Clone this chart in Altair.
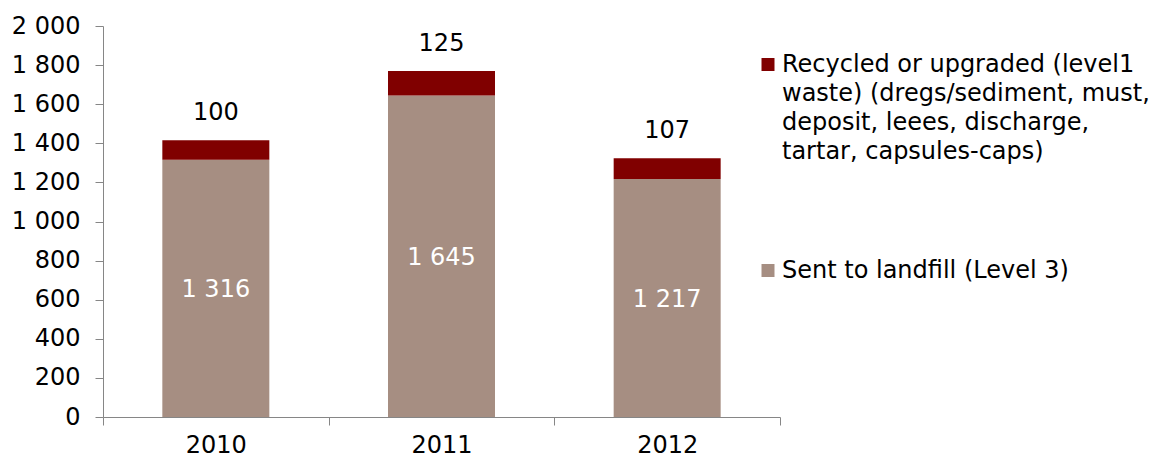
import altair as alt
import pandas as pd

years = ["2010", "2011", "2012"]
landfill = [1316, 1645, 1217]
recycled = [100, 125, 107]
series_names = [
    "Recycled or upgraded (level1 waste) (dregs/sediment, must, deposit, leees, discharge, tartar, capsules-caps)",
    "Sent to landfill (Level 3)",
]
colors = ["#800000", "#A68E82"]
y_ticks = [0, 200, 400, 600, 800, 1000, 1200, 1400, 1600, 1800, 2000]

FONT = "DejaVu Sans"
FS = 24

rows = []
for yr, lf, rc in zip(years, landfill, recycled):
    rows.append({"year": yr, "series": series_names[1], "value": lf, "order": 0})
    rows.append({"year": yr, "series": series_names[0], "value": rc, "order": 1})
df = pd.DataFrame(rows)

wide = pd.DataFrame({"year": years, "landfill": landfill, "recycled": recycled})

xscale = alt.Scale(paddingInner=0, paddingOuter=0)
xaxis = alt.Axis(
    title=None, labelAngle=0, tickBand="extent", tickSize=8, labelPadding=8,
    labelFontSize=FS, labelFont=FONT, labelColor="#000000",
    domainColor="#868686", tickColor="#868686",
)
yscale = alt.Scale(domain=[0, 2000], nice=False)
yaxis = alt.Axis(
    title=None, values=y_ticks, grid=False, tickSize=8, labelPadding=15,
    labelOverlap=False,
    labelFontSize=FS, labelFont=FONT, labelColor="#000000",
    domainColor="#868686", tickColor="#868686",
    labelExpr="replace(format(datum.value, ','), ',', ' ')",
)

bars = alt.Chart(df).mark_bar(size=107).encode(
    x=alt.X("year:N", scale=xscale, axis=xaxis, title=None),
    y=alt.Y("value:Q", stack="zero", scale=yscale, axis=yaxis, title=None),
    color=alt.Color(
        "series:N",
        scale=alt.Scale(domain=series_names, range=colors),
        legend=alt.Legend(
            title=None, orient="none", legendX=653, legendY=15, direction="vertical",
            symbolType="M-1,0.77H1V2.77H-1Z", symbolSize=169, symbolStrokeWidth=0,
            labelFont=FONT, labelFontSize=FS, labelColor="#000000", labelLimit=600,
            labelOffset=2, padding=0, rowPadding=83, labelBaseline="top",
            labelExpr="datum.label == 'Sent to landfill (Level 3)' ? datum.label : ['Recycled or upgraded (level1', 'waste) (dregs/sediment, must,', 'deposit, leees, discharge,', 'tartar, capsules-caps)']",
        ),
    ),
    order=alt.Order("order:Q"),
)

top_labels = alt.Chart(wide).transform_calculate(
    total="datum.landfill + datum.recycled"
).mark_text(font=FONT, fontSize=FS, color="#000000", baseline="alphabetic", dy=-20).encode(
    x=alt.X("year:N", scale=xscale, axis=xaxis, title=None),
    y=alt.Y("total:Q", scale=yscale, axis=yaxis, title=None),
    text=alt.Text("recycled:Q"),
)

inner_labels = alt.Chart(wide).transform_calculate(
    mid="datum.landfill / 2",
    lbl="replace(format(datum.landfill, ','), ',', ' ')",
).mark_text(font=FONT, fontSize=FS, color="#FFFFFF", baseline="middle", dy=2).encode(
    x=alt.X("year:N", scale=xscale, axis=xaxis, title=None),
    y=alt.Y("mid:Q", scale=yscale, axis=yaxis, title=None),
    text=alt.Text("lbl:N"),
)

chart = alt.layer(bars, top_labels, inner_labels).properties(
    width=677, height=391,
    autosize=alt.AutoSizeParams(type="none"),
    padding={"left": 103, "top": 26, "right": 377, "bottom": 43},
).configure(
    view=alt.ViewConfig(stroke="transparent"),
    style={"guide-label": {"lineHeight": 29}},
)

chart.save("out.html", embed_options={"renderer": "svg", "actions": False})
